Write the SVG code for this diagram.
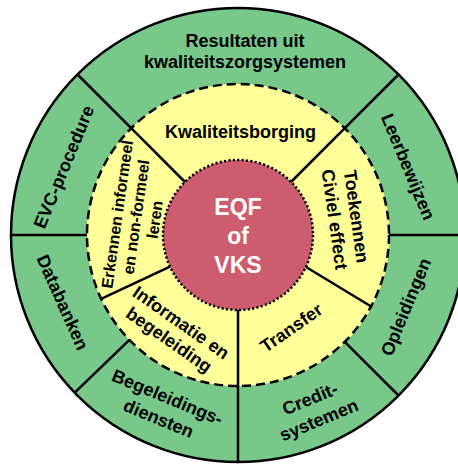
<svg xmlns="http://www.w3.org/2000/svg" width="458" height="464" viewBox="0 0 458 464">
<style>
.g{fill:#78C88A}
.y{fill:#FFFF99}
.r{fill:#CD5C6E}
.lbl{font-family:"Liberation Sans",Arial,Helvetica,sans-serif;font-weight:bold;font-size:18px;fill:#000;text-anchor:middle}
.sm{font-size:16px}
.ctr{font-family:"Liberation Sans",Arial,Helvetica,sans-serif;font-weight:bold;font-size:23px;fill:#fff;text-anchor:middle}
.sep{stroke:#000;stroke-width:2.5;fill:none}
</style>
<rect width="458" height="464" fill="#fff"/>
<g id="resultaten">
<path class="g" d="M77.5,74.5 A227,227 0 0 1 398.5,74.5 L344.8,128.2 A151,151 0 0 0 131.2,128.2 Z"/>
<text class="lbl" x="245" y="47">Resultaten uit</text>
<text class="lbl" x="245" y="68">kwaliteitszorgsystemen</text>
</g>
<g id="leerbewijzen">
<path class="g" d="M398.5,74.5 A227,227 0 0 1 465,235 L389,235 A151,151 0 0 0 344.8,128.2 Z"/>
<text class="lbl" transform="translate(408,167) rotate(67.5)" y="6">Leerbewijzen</text>
</g>
<g id="opleidingen">
<path class="g" d="M465,235 A227,227 0 0 1 398.5,395.5 L344.8,341.8 A151,151 0 0 0 389,235 Z"/>
<text class="lbl" transform="translate(406,307) rotate(-67.5)" y="6">Opleidingen</text>
</g>
<g id="creditsystemen">
<path class="g" d="M398.5,395.5 A227,227 0 0 1 238,462 L238,386 A151,151 0 0 0 344.8,341.8 Z"/>
<text class="lbl" transform="translate(314.5,409.5) rotate(-22.5)"><tspan x="0" y="-5.5">Credit-</tspan><tspan x="0" y="17.5">systemen</tspan></text>
</g>
<g id="begeleidingsdiensten">
<path class="g" d="M238,462 A227,227 0 0 1 74.7,392.7 L129.4,339.9 A151,151 0 0 0 238,386 Z"/>
<text class="lbl" transform="translate(163,408) rotate(22.5)"><tspan x="0" y="-5.5">Begeleidings-</tspan><tspan x="0" y="17.5">diensten</tspan></text>
</g>
<g id="databanken">
<path class="g" d="M74.7,392.7 A227,227 0 0 1 11,235 L87,235 A151,151 0 0 0 129.4,339.9 Z"/>
<text class="lbl" transform="translate(62.5,302.5) rotate(66)" y="6">Databanken</text>
</g>
<g id="evc-procedure">
<path class="g" d="M11,235 A227,227 0 0 1 77.5,74.5 L131.2,128.2 A151,151 0 0 0 87,235 Z"/>
<text class="lbl" transform="translate(64,167) rotate(-67.5)" y="6">EVC-procedure</text>
</g>
<g id="kwaliteitsborging">
<path class="y" d="M131.2,128.2 A151,151 0 0 1 344.8,128.2 L291,182 A75,75 0 0 0 185,182 Z"/>
<text class="lbl" x="240.5" y="138">Kwaliteitsborging</text>
</g>
<g id="toekennen">
<path class="y" d="M344.8,128.2 A151,151 0 0 1 372,307 L306,267 A75,75 0 0 0 291,182 Z"/>
<text class="lbl" transform="translate(345.4,218) rotate(82)"><tspan x="0" y="-5">Toekennen</tspan><tspan x="0" y="17">Civiel effect</tspan></text>
</g>
<g id="transfer">
<path class="y" d="M372,307 A151,151 0 0 1 238,386 L238,310 A75,75 0 0 0 306,267 Z"/>
<text class="lbl" transform="translate(291.5,328) rotate(-35)" y="6">Transfer</text>
</g>
<g id="informatie">
<path class="y" d="M238,386 A151,151 0 0 1 101.1,298.8 L170,266.7 A75,75 0 0 0 238,310 Z"/>
<text class="lbl" transform="translate(175,331.3) rotate(35)"><tspan x="0" y="-4.5">Informatie en</tspan><tspan x="0" y="16.5">begeleiding</tspan></text>
</g>
<g id="erkennen">
<path class="y" d="M101.1,298.8 A151,151 0 0 1 131.2,128.2 L185,182 A75,75 0 0 0 170,266.7 Z"/>
<text class="lbl sm" transform="translate(136,217) rotate(-82)"><tspan x="0" y="-13.5">Erkennen informeel</tspan><tspan x="0" y="5.5">en non-formeel</tspan><tspan x="0" y="24.5">leren</tspan></text>
</g>
<g id="eqf">
<circle class="r" cx="238" cy="235" r="75"/>
<text class="ctr" x="238" y="215">EQF</text>
<text class="ctr" x="238" y="244">of</text>
<text class="ctr" x="238" y="273">VKS</text>
</g>
<g id="connectors">
<circle class="sep" cx="238" cy="235" r="227"/>
<circle class="sep" cx="238" cy="235" r="151" stroke-dasharray="9 5"/>
<circle class="sep" cx="238" cy="235" r="75" stroke-dasharray="2.2 2.2"/>
<line class="sep" x1="131.2" y1="128.2" x2="77.5" y2="74.5"/>
<line class="sep" x1="344.8" y1="128.2" x2="398.5" y2="74.5"/>
<line class="sep" x1="389" y1="235" x2="465" y2="235"/>
<line class="sep" x1="344.8" y1="341.8" x2="398.5" y2="395.5"/>
<line class="sep" x1="238" y1="386" x2="238" y2="462"/>
<line class="sep" x1="129.4" y1="339.9" x2="74.7" y2="392.7"/>
<line class="sep" x1="87" y1="235" x2="11" y2="235"/>
<line class="sep" x1="185" y1="182" x2="131.2" y2="128.2"/>
<line class="sep" x1="291" y1="182" x2="344.8" y2="128.2"/>
<line class="sep" x1="306" y1="267" x2="372" y2="307"/>
<line class="sep" x1="238" y1="310" x2="238" y2="386"/>
<line class="sep" x1="170" y1="266.7" x2="101.1" y2="298.8"/>
</g>
</svg>
